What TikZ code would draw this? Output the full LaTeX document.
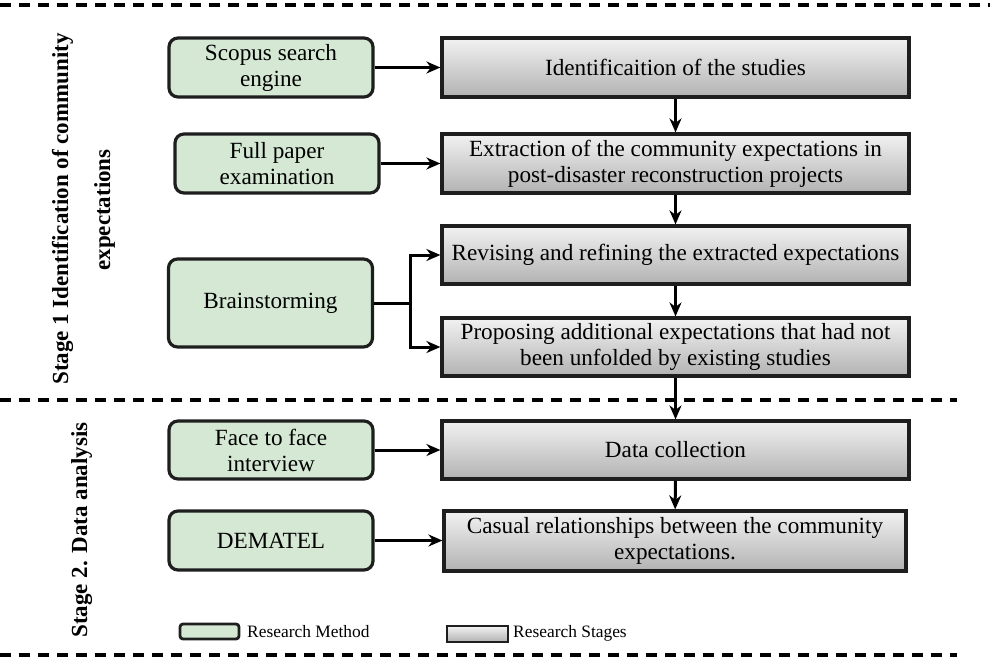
\documentclass[tikz,border=0pt]{standalone}
\usepackage{fontspec}
\setmainfont{Liberation Serif}
\usetikzlibrary{arrows.meta}
\definecolor{methodfill}{HTML}{D5E8D4}
\definecolor{edge}{HTML}{1E1E1E}
\definecolor{stagetop}{HTML}{F2F2F2}
\definecolor{stagebot}{HTML}{B2B2B2}

\begin{document}
\begin{tikzpicture}[x=1pt,y=-1pt,
  boxfont/.style={font=\fontsize{23.2}{26}\selectfont},
  method/.style={boxfont,draw=edge,line width=3.2pt,rounded corners=9pt,
    fill=methodfill,minimum width=204pt,align=center,inner sep=0pt},
  stagebox/.style={boxfont,draw=edge,line width=3.2pt,top color=stagetop,
    bottom color=stagebot,minimum width=467pt,align=center,inner sep=0pt},
  link/.style={line width=3pt,-{Stealth[length=14pt,width=12pt]}},
  divider/.style={line width=3.2pt,dash pattern=on 11pt off 8pt},
  stagelabel/.style={rotate=90,anchor=base,inner sep=0pt,
    font=\bfseries\fontsize{23}{26}\selectfont},
  legendtext/.style={font=\fontsize{17.4}{20}\selectfont,anchor=west,inner sep=0pt}]

\useasboundingbox (0,0) rectangle (990,661);

% stage dividers
\draw[divider] (0,5) -- (990,5);
\draw[divider] (0,400) -- (957,400);
\draw[divider] (0,655) -- (957,655);

% stage titles
\node[stagelabel] (s1a) at (68,209) {Stage 1 Identification of community};
\node[stagelabel] (s1b) at (110,210) {expectations};
\node[stagelabel] (s2) at (87,530) {Stage 2. Data analysis};

% research methods
\node[method,minimum height=59pt] (scopus) at (271,67.5) {Scopus search\\engine};
\node[method,minimum height=59pt] (paper) at (277,163.5) {Full paper\\examination};
\node[method,minimum height=88pt] (brain) at (270.5,303) {Brainstorming};
\node[method,minimum height=58pt] (face) at (271,450) {Face to face\\interview};
\node[method,minimum height=59pt] (dematel) at (271,540.5) {DEMATEL};

% research stages
\node[stagebox,minimum height=59pt] (ident) at (675.5,67.5) {Identificaition of the studies};
\node[stagebox,minimum height=59pt] (extract) at (675.5,163.5)
  {Extraction of the community expectations in\\post-disaster reconstruction projects};
\node[stagebox,minimum height=58pt] (revise) at (675.5,255)
  {Revising and refining the extracted expectations};
\node[stagebox,minimum height=58pt] (propose) at (675.5,347)
  {Proposing additional expectations that had not\\been unfolded by existing studies};
\node[stagebox,minimum height=58pt] (collect) at (675.5,450) {Data collection};
\node[stagebox,minimum height=60pt,minimum width=462pt] (causal) at (675,541)
  {Casual relationships between the community\\expectations.};

% method -> stage links
\draw[link] (scopus.east) -- (scopus.east -| ident.west);
\draw[link] (paper.east) -- (paper.east -| extract.west);
\coordinate (split) at (410,303);
\draw[link] (brain.east) -- (split) |- (revise.west);
\draw[link] (split) |- (propose.west);
\draw[link] (face.east) -- (face.east -| collect.west);
\draw[link] (dematel.east) -- (dematel.east -| causal.west);

% stage sequence
\draw[link] (ident) -- (extract);
\draw[link] (extract) -- (revise);
\draw[link] (revise) -- (propose);
\draw[link] (propose) -- (collect);
\draw[link] (collect) -- (causal);

% legend
\node[draw=edge,line width=2.8pt,rounded corners=3pt,fill=methodfill,
  minimum width=59pt,minimum height=15pt,inner sep=0pt] (keymethod) at (209.5,631.5) {};
\node[legendtext] (keymethodtext) at (247,632) {Research Method};
\node[draw=edge,line width=2.8pt,top color=stagetop,bottom color=stagebot,
  minimum width=61pt,minimum height=16pt,inner sep=0pt] (keystage) at (477.5,634) {};
\node[legendtext] (keystagetext) at (513,633) {Research Stages};
\end{tikzpicture}
\end{document}
